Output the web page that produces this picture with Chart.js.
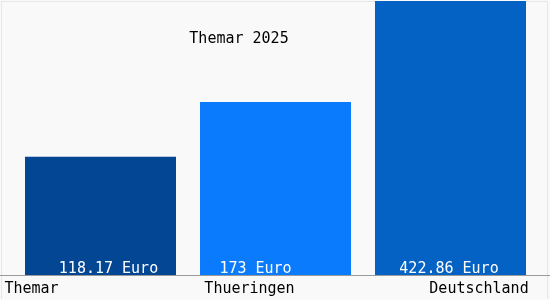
<!DOCTYPE html>
<html>
<head>
<meta charset="utf-8">
<script src="https://cdn.jsdelivr.net/npm/chart.js@4/dist/chart.umd.min.js"></script>
<style>
  html, body { margin: 0; padding: 0; background: #f9f9f9; }
  #wrap { width: 550px; height: 300px; position: relative; }
</style>
</head>
<body>
<div id="wrap"><canvas id="c" width="550" height="300"></canvas></div>
<script>
const categories = ["Themar", "Thueringen", "Deutschland"];
const values = [118.17, 173, 422.86];
const valueLabels = ["118.17 Euro", "173 Euro", "422.86 Euro"];
const chartTitle = "Themar 2025";
const barColors = ["#034694", "#0a7bfc", "#0462c4"];

// styling offsets (px) for label placement relative to bar centers
const valueLabelShift = [8, -20, -1.5];
const catLabelShift = [-69, -26, 28.5];

const FONT = '15px "DejaVu Sans Mono", monospace';

const overlay = {
  id: 'overlay',
  beforeDraw(chart) {
    const ctx = chart.ctx;
    ctx.save();
    ctx.fillStyle = '#f9f9f9';
    ctx.fillRect(0, 0, chart.width, chart.height);
    ctx.strokeStyle = '#e6e6e6';
    ctx.lineWidth = 1;
    ctx.beginPath();
    ctx.moveTo(1.5, 299); ctx.lineTo(1.5, 1.5); ctx.lineTo(547.5, 1.5); ctx.lineTo(547.5, 299);
    ctx.stroke();
    ctx.fillStyle = '#000';
    ctx.font = FONT;
    ctx.textAlign = 'center';
    ctx.textBaseline = 'alphabetic';
    ctx.fillText(chartTitle, 239, 43);
    ctx.restore();
  },
  afterDatasetsDraw(chart) {
    const ctx = chart.ctx;
    const meta = chart.getDatasetMeta(0);
    const area = chart.chartArea;
    ctx.save();
    ctx.font = FONT;
    ctx.textAlign = 'center';
    ctx.textBaseline = 'alphabetic';
    ctx.fillStyle = '#ffffff';
    meta.data.forEach((bar, i) => {
      ctx.fillText(valueLabels[i], bar.x + valueLabelShift[i], area.bottom - 2);
    });
    // baseline
    ctx.strokeStyle = '#9a9a9a';
    ctx.lineWidth = 1;
    ctx.beginPath();
    ctx.moveTo(0, Math.round(area.bottom) + 0.5);
    ctx.lineTo(chart.width, Math.round(area.bottom) + 0.5);
    ctx.stroke();
    ctx.fillStyle = '#000';
    meta.data.forEach((bar, i) => {
      ctx.fillText(categories[i], bar.x + catLabelShift[i], 293);
    });
    ctx.restore();
  }
};

new Chart(document.getElementById('c'), {
  type: 'bar',
  data: {
    labels: categories,
    datasets: [{
      data: values,
      backgroundColor: barColors,
      borderWidth: 0,
      categoryPercentage: 1,
      barPercentage: 151 / 175
    }]
  },
  options: {
    responsive: false,
    animation: false,
    layout: { padding: { left: 13, right: 12, top: 1, bottom: 25 } },
    plugins: { legend: { display: false }, tooltip: { enabled: false }, title: { display: false } },
    scales: {
      x: { display: false },
      y: { display: false, min: 0, max: 274 }
    }
  },
  plugins: [overlay]
});
</script>
</body>
</html>
